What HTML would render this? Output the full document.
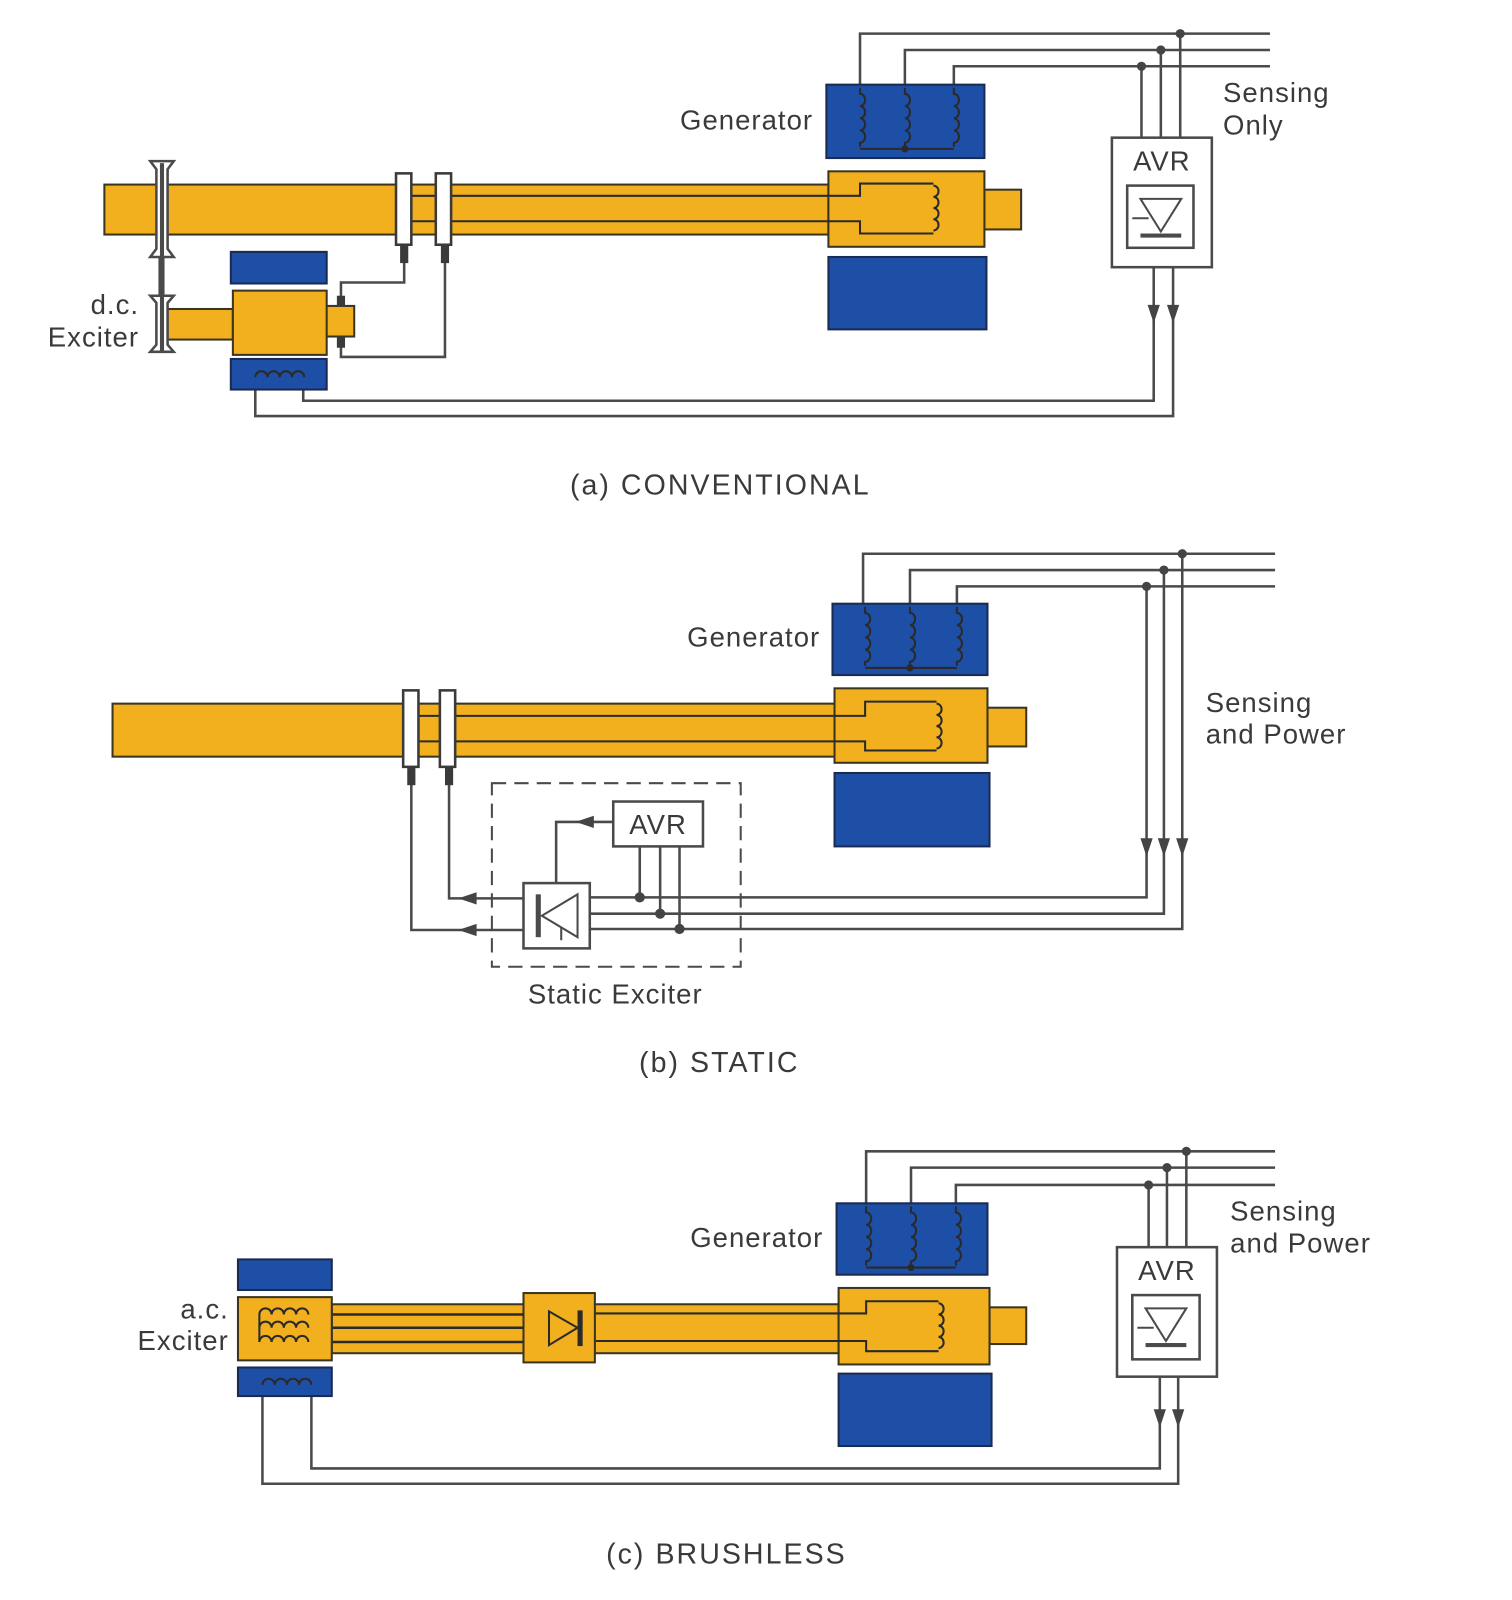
<!DOCTYPE html>
<html><head><meta charset="utf-8"><style>
html,body{margin:0;padding:0;background:#fff;}
svg{display:block;}
text{font-family:"Liberation Sans",sans-serif;fill:#3a3a3a;font-size:27px;letter-spacing:1px;}
text.cap{font-size:28px;letter-spacing:2px;}
</style></head><body>
<svg width="1512" height="1600" viewBox="0 0 1482 1569" xmlns="http://www.w3.org/2000/svg">
<defs>
<path id="cv" d="M0 0 v6 a5 6 0 0 1 0 12 a5 6 0 0 1 0 12 a5 6 0 0 1 0 12 a5 6 0 0 1 0 12 v4" fill="none" stroke="#2a2a2a" stroke-width="2"/>
<path id="cr" d="M0 0 a5 5.5 0 0 1 0 11 a5 5.5 0 0 1 0 11 a5 5.5 0 0 1 0 11 a5 5.5 0 0 1 0 11" fill="none" stroke="#2a2a2a" stroke-width="2"/>
<path id="ch" d="M0 0 a6 6 0 0 1 12 0 a6 6 0 0 1 12 0 a6 6 0 0 1 12 0 a6 6 0 0 1 12 0" fill="none" stroke="#2a2a2a" stroke-width="2"/>
<path id="ad" d="M-6 -16 L6 -16 L0 2 Z" fill="#444"/>
<path id="al" d="M16 -6 L16 6 L-2 0 Z" fill="#444"/>
</defs>
<g stroke-linejoin="miter">

<!-- ================= (a) ================= -->
<g fill="none" stroke="#4a4a4a" stroke-width="2.5">
<polyline points="843,85 843,33 1245,33"/>
<polyline points="887,85 887,49 1245,49"/>
<polyline points="935,85 935,65 1245,65"/>
<line x1="1157" y1="33" x2="1157" y2="135"/>
<line x1="1138" y1="49" x2="1138" y2="135"/>
<line x1="1119" y1="65" x2="1119" y2="135"/>
<polyline points="1131,262 1131,393 297,393 297,370"/>
<polyline points="1150,262 1150,408 250,408 250,370"/>
<polyline points="396,255 396,277 334,277 334,292"/>
<polyline points="436,255 436,350 334,350 334,340"/>
</g>
<g fill="#444"><circle cx="1157" cy="33" r="4.5"/><circle cx="1138" cy="49" r="4.5"/><circle cx="1119" cy="65" r="4.5"/></g>
<use href="#ad" x="1131" y="315"/><use href="#ad" x="1150" y="315"/>
<rect x="810" y="83" width="155" height="72" fill="#1e4fa6" stroke="#1a2a50" stroke-width="2"/>
<use href="#cv" x="843" y="86"/><use href="#cv" x="887" y="86"/><use href="#cv" x="935" y="86"/>
<polyline points="843,146 935,146" stroke="#2a2a2a" stroke-width="2" fill="none"/>
<circle cx="887" cy="146" r="3.5" fill="#2a2a2a"/>
<rect x="102" y="181" width="710" height="49" fill="#f2b01e" stroke="#3a3520" stroke-width="2"/>
<rect x="965" y="186" width="36" height="39" fill="#f2b01e" stroke="#3a3520" stroke-width="2"/>
<rect x="812" y="168" width="153" height="74" fill="#f2b01e" stroke="#3a3520" stroke-width="2"/>
<path d="M395 192 H843 V180 H915 M915 229 H843 V217 H395" fill="none" stroke="#2a2a2a" stroke-width="2"/>
<use href="#cr" x="915" y="182"/>
<rect x="812" y="252" width="155" height="71" fill="#1e4fa6" stroke="#1a2a50" stroke-width="2"/>
<rect x="388" y="170" width="15" height="70" fill="#fff" stroke="#3a3a3a" stroke-width="2.5"/>
<rect x="427" y="170" width="15" height="70" fill="#fff" stroke="#3a3a3a" stroke-width="2.5"/>
<rect x="392" y="240" width="8" height="18" fill="#3a3a3a"/>
<rect x="432" y="240" width="8" height="18" fill="#3a3a3a"/>
<rect x="160" y="303" width="68" height="30" fill="#f2b01e" stroke="#3a3520" stroke-width="2"/>
<rect x="318" y="300" width="29" height="30" fill="#f2b01e" stroke="#3a3520" stroke-width="2"/>
<rect x="228" y="285" width="92" height="63" fill="#f2b01e" stroke="#3a3520" stroke-width="2"/>
<rect x="226" y="247" width="94" height="31" fill="#1e4fa6" stroke="#1a2a50" stroke-width="2"/>
<rect x="226" y="352" width="94" height="30" fill="#1e4fa6" stroke="#1a2a50" stroke-width="2"/>
<use href="#ch" x="250" y="370"/>
<rect x="330" y="290" width="8" height="11" fill="#3a3a3a"/>
<rect x="330" y="330" width="8" height="11" fill="#3a3a3a"/>
<line x1="158" y1="160" x2="158" y2="345" stroke="#4a4a4a" stroke-width="6"/>
<path d="M147 158 L153 166 L153 244 L147 252 L170 252 L164 244 L164 166 L170 158 Z" fill="#fff" stroke="#4a4a4a" stroke-width="2.5"/>
<path d="M147 290 L153 297 L153 338 L147 345 L170 345 L164 338 L164 297 L170 290 Z" fill="#fff" stroke="#4a4a4a" stroke-width="2.5"/>
<line x1="158.5" y1="160" x2="158.5" y2="345" stroke="#4a4a4a" stroke-width="4"/>
<rect x="1090" y="135" width="98" height="127" fill="#fff" stroke="#4a4a4a" stroke-width="2.5"/>
<rect x="1105" y="182" width="65" height="61" fill="#fff" stroke="#4a4a4a" stroke-width="2.5"/>
<path d="M1118 195 L1158 195 L1138 227 Z M1110 214 H1126" fill="none" stroke="#4a4a4a" stroke-width="2"/>
<rect x="1118" y="229" width="40" height="4" fill="#4a4a4a"/>
<text x="1139" y="167" text-anchor="middle">AVR</text>
<text x="797" y="127" text-anchor="end">Generator</text>
<text x="1199" y="100">Sensing</text>
<text x="1199" y="132">Only</text>
<text x="136" y="308" text-anchor="end">d.c.</text>
<text x="136" y="340" text-anchor="end">Exciter</text>
<text class="cap" x="706" y="485" text-anchor="middle">(a) CONVENTIONAL</text>

<!-- ================= (b) ================= -->
<g fill="none" stroke="#4a4a4a" stroke-width="2.5">
<polyline points="846,594 846,543 1250,543"/>
<polyline points="892,594 892,559 1250,559"/>
<polyline points="938,594 938,575 1250,575"/>
<polyline points="1124,575 1124,880 578,880"/>
<polyline points="1141,559 1141,896 578,896"/>
<polyline points="1159,543 1159,911 578,911"/>
<polyline points="403,765 403,912 513,912"/>
<polyline points="440,765 440,881 513,881"/>
<polyline points="601,806 545,806 545,866"/>
<line x1="627" y1="830" x2="627" y2="880"/>
<line x1="647" y1="830" x2="647" y2="896"/>
<line x1="666" y1="830" x2="666" y2="911"/>
</g>
<g fill="#444"><circle cx="1159" cy="543" r="4.5"/><circle cx="1141" cy="559" r="4.5"/><circle cx="1124" cy="575" r="4.5"/>
<circle cx="627" cy="880" r="5"/><circle cx="647" cy="896" r="5"/><circle cx="666" cy="911" r="5"/></g>
<use href="#ad" x="1124" y="838"/><use href="#ad" x="1141" y="838"/><use href="#ad" x="1159" y="838"/>
<use href="#al" x="451" y="881"/><use href="#al" x="451" y="912"/><use href="#al" x="566" y="806"/>
<rect x="482" y="768" width="244" height="180" fill="none" stroke="#4a4a4a" stroke-width="2" stroke-dasharray="14,8"/>
<rect x="816" y="592" width="152" height="70" fill="#1e4fa6" stroke="#1a2a50" stroke-width="2"/>
<use href="#cv" x="848" y="595"/><use href="#cv" x="892" y="595"/><use href="#cv" x="938" y="595"/>
<polyline points="848,655 938,655" stroke="#2a2a2a" stroke-width="2" fill="none"/>
<circle cx="892" cy="655" r="3.5" fill="#2a2a2a"/>
<rect x="110" y="690" width="708" height="52" fill="#f2b01e" stroke="#3a3520" stroke-width="2"/>
<rect x="968" y="694" width="38" height="38" fill="#f2b01e" stroke="#3a3520" stroke-width="2"/>
<rect x="818" y="675" width="150" height="73" fill="#f2b01e" stroke="#3a3520" stroke-width="2"/>
<path d="M402 702 H848 V688 H918 M918 736 H848 V727 H402" fill="none" stroke="#2a2a2a" stroke-width="2"/>
<use href="#cr" x="918" y="690"/>
<rect x="818" y="758" width="152" height="72" fill="#1e4fa6" stroke="#1a2a50" stroke-width="2"/>
<rect x="395" y="677" width="15" height="75" fill="#fff" stroke="#3a3a3a" stroke-width="2.5"/>
<rect x="431" y="677" width="15" height="75" fill="#fff" stroke="#3a3a3a" stroke-width="2.5"/>
<rect x="399" y="752" width="8" height="18" fill="#3a3a3a"/>
<rect x="436" y="752" width="8" height="18" fill="#3a3a3a"/>
<rect x="601" y="786" width="88" height="44" fill="#fff" stroke="#4a4a4a" stroke-width="2.5"/>
<text x="645" y="818" text-anchor="middle">AVR</text>
<rect x="513" y="866" width="65" height="64" fill="#fff" stroke="#4a4a4a" stroke-width="2.5"/>
<rect x="525" y="877" width="5" height="42" fill="#4a4a4a"/>
<path d="M566 877 L566 919 L531 898 Z M550 910 V922" fill="none" stroke="#4a4a4a" stroke-width="2"/>
<text x="804" y="634" text-anchor="end">Generator</text>
<text x="1182" y="698">Sensing</text>
<text x="1182" y="729">and Power</text>
<text x="603" y="984" text-anchor="middle">Static Exciter</text>
<text class="cap" x="705" y="1051" text-anchor="middle">(b) STATIC</text>

<!-- ================= (c) ================= -->
<g fill="none" stroke="#4a4a4a" stroke-width="2.5">
<polyline points="849,1182 849,1129 1250,1129"/>
<polyline points="893,1182 893,1145 1250,1145"/>
<polyline points="937,1182 937,1162 1250,1162"/>
<line x1="1163" y1="1129" x2="1163" y2="1223"/>
<line x1="1144" y1="1145" x2="1144" y2="1223"/>
<line x1="1126" y1="1162" x2="1126" y2="1223"/>
<polyline points="1137,1350 1137,1440 305,1440 305,1358"/>
<polyline points="1155,1350 1155,1455 257,1455 257,1358"/>
</g>
<g fill="#444"><circle cx="1163" cy="1129" r="4.5"/><circle cx="1144" cy="1145" r="4.5"/><circle cx="1126" cy="1162" r="4.5"/></g>
<use href="#ad" x="1137" y="1398"/><use href="#ad" x="1155" y="1398"/>
<rect x="820" y="1180" width="148" height="70" fill="#1e4fa6" stroke="#1a2a50" stroke-width="2"/>
<use href="#cv" x="849" y="1183"/><use href="#cv" x="893" y="1183"/><use href="#cv" x="937" y="1183"/>
<polyline points="849,1243 937,1243" stroke="#2a2a2a" stroke-width="2" fill="none"/>
<circle cx="893" cy="1243" r="3.5" fill="#2a2a2a"/>
<rect x="325" y="1279" width="497" height="48" fill="#f2b01e" stroke="#3a3520" stroke-width="2"/>
<rect x="970" y="1282" width="36" height="36" fill="#f2b01e" stroke="#3a3520" stroke-width="2"/>
<rect x="822" y="1263" width="148" height="75" fill="#f2b01e" stroke="#3a3520" stroke-width="2"/>
<path d="M583 1288 H849 V1276 H920 M920 1325 H849 V1315 H583" fill="none" stroke="#2a2a2a" stroke-width="2"/>
<use href="#cr" x="920" y="1278"/>
<rect x="822" y="1347" width="150" height="71" fill="#1e4fa6" stroke="#1a2a50" stroke-width="2"/>
<rect x="513" y="1268" width="70" height="68" fill="#f2b01e" stroke="#3a3520" stroke-width="2"/>
<path d="M302 1289 H513 M302 1302 H513 M302 1316 H513" stroke="#2a2a2a" stroke-width="2.5" fill="none"/>
<path d="M538 1286 L538 1319 L566 1302 Z" fill="none" stroke="#2a2a2a" stroke-width="2"/>
<rect x="566" y="1285" width="5" height="35" fill="#2a2a2a"/>
<rect x="233" y="1235" width="92" height="30" fill="#1e4fa6" stroke="#1a2a50" stroke-width="2"/>
<rect x="233" y="1272" width="92" height="62" fill="#f2b01e" stroke="#3a3520" stroke-width="2"/>
<rect x="233" y="1341" width="92" height="28" fill="#1e4fa6" stroke="#1a2a50" stroke-width="2"/>
<path d="M254 1316 V1289" stroke="#2a2a2a" stroke-width="2" fill="none"/>
<use href="#ch" x="254" y="1289"/>
<use href="#ch" x="254" y="1302"/>
<use href="#ch" x="254" y="1316"/>
<use href="#ch" x="257" y="1358"/>
<rect x="1095" y="1223" width="98" height="127" fill="#fff" stroke="#4a4a4a" stroke-width="2.5"/>
<rect x="1110" y="1270" width="66" height="63" fill="#fff" stroke="#4a4a4a" stroke-width="2.5"/>
<path d="M1123 1283 L1163 1283 L1143 1315 Z M1115 1302 H1131" fill="none" stroke="#4a4a4a" stroke-width="2"/>
<rect x="1123" y="1317" width="40" height="4" fill="#4a4a4a"/>
<text x="1144" y="1255" text-anchor="middle">AVR</text>
<text x="807" y="1223" text-anchor="end">Generator</text>
<text x="1206" y="1197">Sensing</text>
<text x="1206" y="1228">and Power</text>
<text x="224" y="1293" text-anchor="end">a.c.</text>
<text x="224" y="1324" text-anchor="end">Exciter</text>
<text class="cap" x="712" y="1533" text-anchor="middle">(c) BRUSHLESS</text>
</g>
</svg>
</body></html>
